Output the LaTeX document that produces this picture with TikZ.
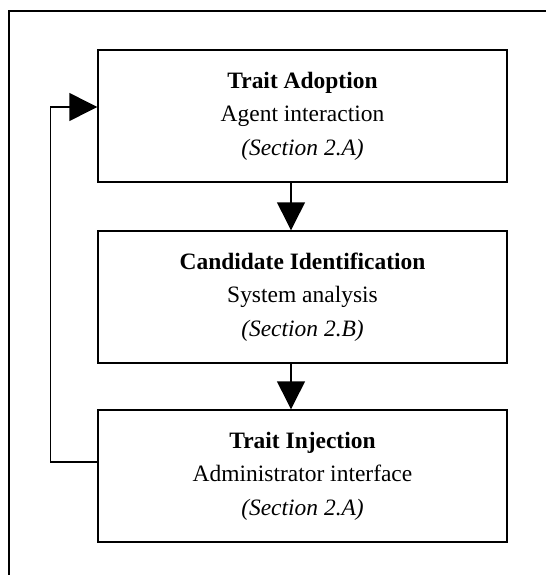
\documentclass[tikz,border=0pt]{standalone}
\usepackage{fontspec}
\setmainfont{Liberation Serif}
\usetikzlibrary{arrows.meta,calc}
\begin{document}
\begin{tikzpicture}[x=0.75pt,y=-0.75pt,
  stagebox/.style={draw,line width=1.1pt,minimum width=409*0.75pt,minimum height=132*0.75pt,
    inner sep=0pt,align=center,font=\fontsize{17.6}{24.75}\selectfont},
  flow/.style={line width=1.1pt,-{Triangle[length=21pt,width=21pt]}},
  frame/.style={line width=1.5pt}]
  \useasboundingbox (0,0) rectangle (546,575);
  % open outer frame
  \draw[frame] (9,575) -- (9,11) -- (546,11);
  % the three stages
  \node[stagebox] (adopt) at (302.5,116) {\textbf{Trait Adoption}\\[0.3pt]Agent interaction\\[0.3pt]\textit{(Section 2.A)}};
  \node[stagebox] (ident) at (302.5,297) {\textbf{Candidate Identification}\\[0.3pt]System analysis\\[0.3pt]\textit{(Section 2.B)}};
  \node[stagebox] (inject) at (302.5,476) {\textbf{Trait Injection}\\[0.3pt]Administrator interface\\[0.3pt]\textit{(Section 2.A)}};
  % downward flow
  \draw[flow] ($(adopt.south)+(-11.5,0)$) -- ($(ident.north)+(-11.5,0)$);
  \draw[flow] ($(ident.south)+(-11.5,0)$) -- ($(inject.north)+(-11.5,0)$);
  % feedback loop
  \coordinate (loopA) at ($(inject.west)+(-47,-14)$);
  \coordinate (loopB) at ($(adopt.west)+(-47,-9)$);
  \draw[flow] ($(inject.west)+(0,-14)$) -- (loopA) -- (loopB) -- ($(adopt.west)+(0,-9)$);
\end{tikzpicture}
\end{document}
